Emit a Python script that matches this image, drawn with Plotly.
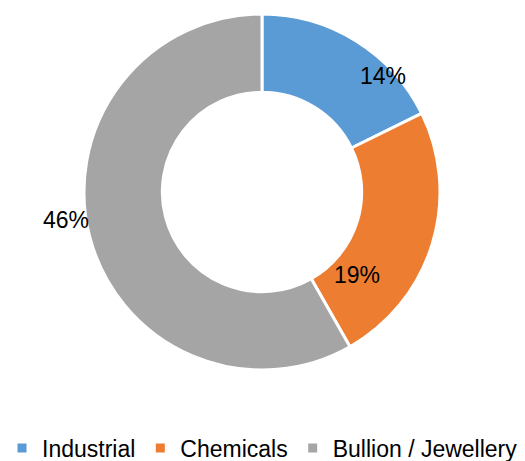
import plotly.graph_objects as go

categories = ["Industrial", "Chemicals", "Bullion / Jewellery"]
values = [14, 19, 46]
label_text = ["14%", "19%", "46%"]
colors = ["#5B9BD5", "#ED7D31", "#A5A5A5"]

W, H = 525, 461

fig = go.Figure()
fig.add_trace(go.Pie(
    labels=categories,
    values=values,
    hole=0.56,
    sort=False,
    direction="clockwise",
    rotation=0,
    marker=dict(colors=colors, line=dict(color="white", width=3)),
    textinfo="none",
    hoverinfo="label+value",
    domain=dict(x=[84 / W, 440 / W], y=[1 - 370 / H, 1 - 14 / H]),
))

label_pos = [(383, 76), (357, 275), (66, 220)]
for txt, (px, py) in zip(label_text, label_pos):
    fig.add_annotation(
        x=px / W, y=1 - py / H, xref="paper", yref="paper",
        xanchor="center", yanchor="middle",
        text=txt, showarrow=False,
        font=dict(family="Liberation Sans, Arial, sans-serif", size=23, color="#000000"),
    )

fig.update_layout(
    width=W, height=H,
    margin=dict(l=0, r=0, t=0, b=0, autoexpand=False),
    paper_bgcolor="white",
    plot_bgcolor="white",
    showlegend=True,
    legend=dict(
        orientation="h",
        x=0.5, xanchor="center",
        y=1 - 448 / H, yanchor="middle",
        font=dict(family="Liberation Sans, Arial, sans-serif", size=23, color="#000000"),
        itemwidth=30,
        traceorder="normal",
    ),
)

fig.write_html(
    "out.html",
    config={"displayModeBar": False},
    post_script="document.body.style.margin='0';document.body.style.overflow='hidden';",
)
